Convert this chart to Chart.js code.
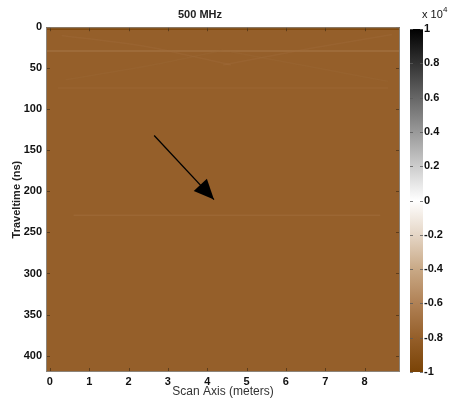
<!DOCTYPE html>
<html><head><meta charset="utf-8">
<script src="https://cdn.jsdelivr.net/npm/chart.js@4/dist/chart.umd.min.js"></script>
<style>
html,body{margin:0;padding:0;background:#fff;}
#wrap{position:relative;width:450px;height:400px;}
#main{position:absolute;left:0;top:0;}
#cbar{position:absolute;left:400px;top:0;}
</style></head>
<body><div id="wrap"><canvas id="main" width="450" height="400"></canvas><canvas id="cbar" width="50" height="400"></canvas></div>
<script>
// ---- data (amplitudes in units of 10^4) ----
const xTicks = [0,1,2,3,4,5,6,7,8];
const yTicks = [0,50,100,150,200,250,300,350,400];
const cbTicks = [-1,-0.8,-0.6,-0.4,-0.2,0,0.2,0.4,0.6,0.8,1];
const cmapValues = [-1,-0.8,-0.6,-0.4,-0.2,0,0.2,0.4,0.6,0.8,1];
const cmapColors = ['#7a4306','#955f2a','#b08155','#c9a986','#e5d6c6','#ffffff','#cccccc','#999999','#666666','#333333','#000000'];
const backgroundAmplitude = -0.8;
// faint reflections: scan position (m) and traveltime (ns), with amplitude
const topBandX = [-0.1, 8.9];       const topBandT = [1.5, 1.5];       const topBandAmp = -0.95;
const directWaveX = [-0.1, 8.9];    const directWaveT = [29, 29];      const directWaveAmp = -0.62;
const diagAX = [0.3, 2.5, 4.6];     const diagAT = [10, 24, 46];       const diagAAmp = -0.72;
const diagBX = [4.4, 6.6, 8.7];     const diagBT = [46, 26, 9];        const diagBAmp = -0.72;
const diagCX = [0.4, 2.6, 4.4];     const diagCT = [64, 46, 28];       const diagCAmp = -0.74;
const diagDX = [4.6, 6.6, 8.6];     const diagDT = [30, 48, 66];       const diagDAmp = -0.74;
const layer74X = [0.2, 8.6];        const layer74T = [74, 74];         const layer74Amp = -0.72;
const layer229X = [0.6, 8.4];       const layer229T = [229, 229];      const layer229Amp = -0.7;
const arrowX = [2.65, 4.17];        const arrowT = [132, 210];

function hexToRgb(h){return [parseInt(h.substr(1,2),16),parseInt(h.substr(3,2),16),parseInt(h.substr(5,2),16)];}
function cmap(v, alpha){
  v=Math.max(-1,Math.min(1,v));
  let i=0; while(i<cmapValues.length-2 && v>cmapValues[i+1]) i++;
  const t=(v-cmapValues[i])/(cmapValues[i+1]-cmapValues[i]);
  const a=hexToRgb(cmapColors[i]), b=hexToRgb(cmapColors[i+1]);
  const c=a.map((x,k)=>Math.round(x+(b[k]-x)*t));
  return 'rgba('+c[0]+','+c[1]+','+c[2]+','+(alpha===undefined?1:alpha)+')';
}
const pts=(xs,ts)=>xs.map((x,i)=>({x:x,y:ts[i]}));
const FONT='"Liberation Sans", Arial, sans-serif';

const fieldPlugin={id:'field',beforeDatasetsDraw(chart){
  const a=chart.chartArea,ctx=chart.ctx;ctx.save();
  ctx.fillStyle=cmap(backgroundAmplitude);ctx.fillRect(a.left,a.top,a.right-a.left,a.bottom-a.top);ctx.restore();}};
const framePlugin={id:'frame',afterDatasetsDraw(chart){
  const a=chart.chartArea,ctx=chart.ctx,sx=chart.scales.x,sy=chart.scales.y;ctx.save();
  const meta=chart.getDatasetMeta(chart.data.datasets.length-1);
  const p0=meta.data[0],p1=meta.data[1];
  const ang=Math.atan2(p1.y-p0.y,p1.x-p0.x),L=20,W=9;
  ctx.fillStyle='#000';ctx.beginPath();ctx.moveTo(p1.x,p1.y);
  ctx.lineTo(p1.x-L*Math.cos(ang)+W*Math.sin(ang),p1.y-L*Math.sin(ang)-W*Math.cos(ang));
  ctx.lineTo(p1.x-L*Math.cos(ang)-W*Math.sin(ang),p1.y-L*Math.sin(ang)+W*Math.cos(ang));
  ctx.closePath();ctx.fill();
  ctx.strokeStyle='rgba(70,45,20,0.7)';ctx.lineWidth=1;ctx.beginPath();
  xTicks.forEach(v=>{const px=Math.round(sx.getPixelForValue(v))+0.5;ctx.moveTo(px,a.bottom);ctx.lineTo(px,a.bottom-4);ctx.moveTo(px,a.top);ctx.lineTo(px,a.top+4);});
  yTicks.forEach(v=>{const py=Math.round(sy.getPixelForValue(v))+0.5;ctx.moveTo(a.left,py);ctx.lineTo(a.left+4,py);ctx.moveTo(a.right,py);ctx.lineTo(a.right-4,py);});
  ctx.stroke();
  ctx.strokeStyle='#8c8378';ctx.strokeRect(a.left+0.5,a.top+0.5,a.right-a.left-1,a.bottom-a.top-1);
  ctx.restore();}};

const lineDs=(xs,ts,amp,w,alpha)=>({data:pts(xs,ts),borderColor:cmap(amp,alpha),borderWidth:w,pointRadius:0,showLine:true,fill:false,tension:0.3});

new Chart(document.getElementById('main'),{
  type:'scatter',
  data:{datasets:[
    lineDs(topBandX,topBandT,topBandAmp,3,1),
    lineDs(diagAX,diagAT,diagAAmp,1.5,0.35),
    lineDs(diagBX,diagBT,diagBAmp,1.5,0.35),
    lineDs(diagCX,diagCT,diagCAmp,1.5,0.3),
    lineDs(diagDX,diagDT,diagDAmp,1.5,0.3),
    lineDs(layer74X,layer74T,layer74Amp,1.5,0.35),
    lineDs(directWaveX,directWaveT,directWaveAmp,1.2,0.8),
    lineDs(layer229X,layer229T,layer229Amp,1.5,0.45),
    {data:pts(arrowX,arrowT),borderColor:'#000',borderWidth:1.3,pointRadius:0,showLine:true,fill:false,tension:0}
  ]},
  options:{responsive:false,animation:false,
    layout:{padding:{left:0,right:50,top:0,bottom:0}},
    plugins:{legend:{display:false},tooltip:{enabled:false},
      title:{display:true,text:'500 MHz',color:'#222',font:{family:FONT,size:11,weight:'bold'},padding:{top:8,bottom:6}}},
    scales:{
      x:{type:'linear',min:-0.1,max:8.9,grid:{display:false,drawTicks:false},border:{display:false},
        afterBuildTicks(s){s.ticks=xTicks.map(v=>({value:v}));},
        afterFit(s){s.height=28;},
        ticks:{color:'#111',font:{family:FONT,size:11,weight:'bold'},padding:3,maxRotation:0},
        title:{display:true,text:'Scan Axis (meters)',color:'#333',font:{family:FONT,size:12},padding:{top:0,bottom:1}}},
      y:{type:'linear',reverse:true,min:0,max:420,grid:{display:false,drawTicks:false},border:{display:false},
        afterBuildTicks(s){s.ticks=yTicks.map(v=>({value:v}));},
        afterFit(s){s.width=46;},
        ticks:{color:'#111',font:{family:FONT,size:11,weight:'bold'},padding:4},
        title:{display:true,text:'Traveltime (ns)',color:'#222',font:{family:FONT,size:11,weight:'bold'},padding:{top:10,bottom:0}}}
    }},
  plugins:[fieldPlugin,framePlugin]
});

const cbPlugin={id:'cbdeco',afterDatasetsDraw(chart){
  const a=chart.chartArea,ctx=chart.ctx,sy=chart.scales.y;ctx.save();
  ctx.strokeStyle='rgba(90,90,90,0.8)';ctx.lineWidth=1;ctx.beginPath();
  cbTicks.forEach(v=>{const py=Math.round(sy.getPixelForValue(v))+0.5;ctx.moveTo(a.left,py);ctx.lineTo(a.left+3,py);ctx.moveTo(a.right,py);ctx.lineTo(a.right-3,py);});
  ctx.stroke();
  ctx.fillStyle='#111';ctx.font='11px '+FONT;ctx.textBaseline='alphabetic';
  ctx.fillText('x 10',22,18);ctx.font='8px '+FONT;ctx.fillText('4',43,12);
  ctx.restore();}};

new Chart(document.getElementById('cbar'),{
  type:'bar',
  data:{labels:['amplitude'],datasets:[{data:[[cbTicks[0],cbTicks[cbTicks.length-1]]],barPercentage:1,categoryPercentage:1,borderWidth:0,
    backgroundColor(ctx){const c=ctx.chart,a=c.chartArea;if(!a)return '#888';const sy=c.scales.y;
      const g=c.ctx.createLinearGradient(0,sy.getPixelForValue(-1),0,sy.getPixelForValue(1));
      cmapValues.forEach((v,i)=>g.addColorStop((v+1)/2,cmapColors[i]));return g;}}]},
  options:{responsive:false,animation:false,
    layout:{padding:{left:10,right:0,top:29,bottom:28}},
    plugins:{legend:{display:false},tooltip:{enabled:false}},
    scales:{
      x:{display:false},
      y:{position:'right',min:-1,max:1,grid:{display:false,drawTicks:false},border:{display:false},
        afterBuildTicks(s){s.ticks=cbTicks.map(v=>({value:v}));},
        afterFit(s){s.width=27;},
        ticks:{color:'#111',font:{family:FONT,size:11,weight:'bold'},padding:1,
          callback(v){return String(Math.round(v*10)/10);}}}
    }},
  plugins:[cbPlugin]
});
</script></body></html>
